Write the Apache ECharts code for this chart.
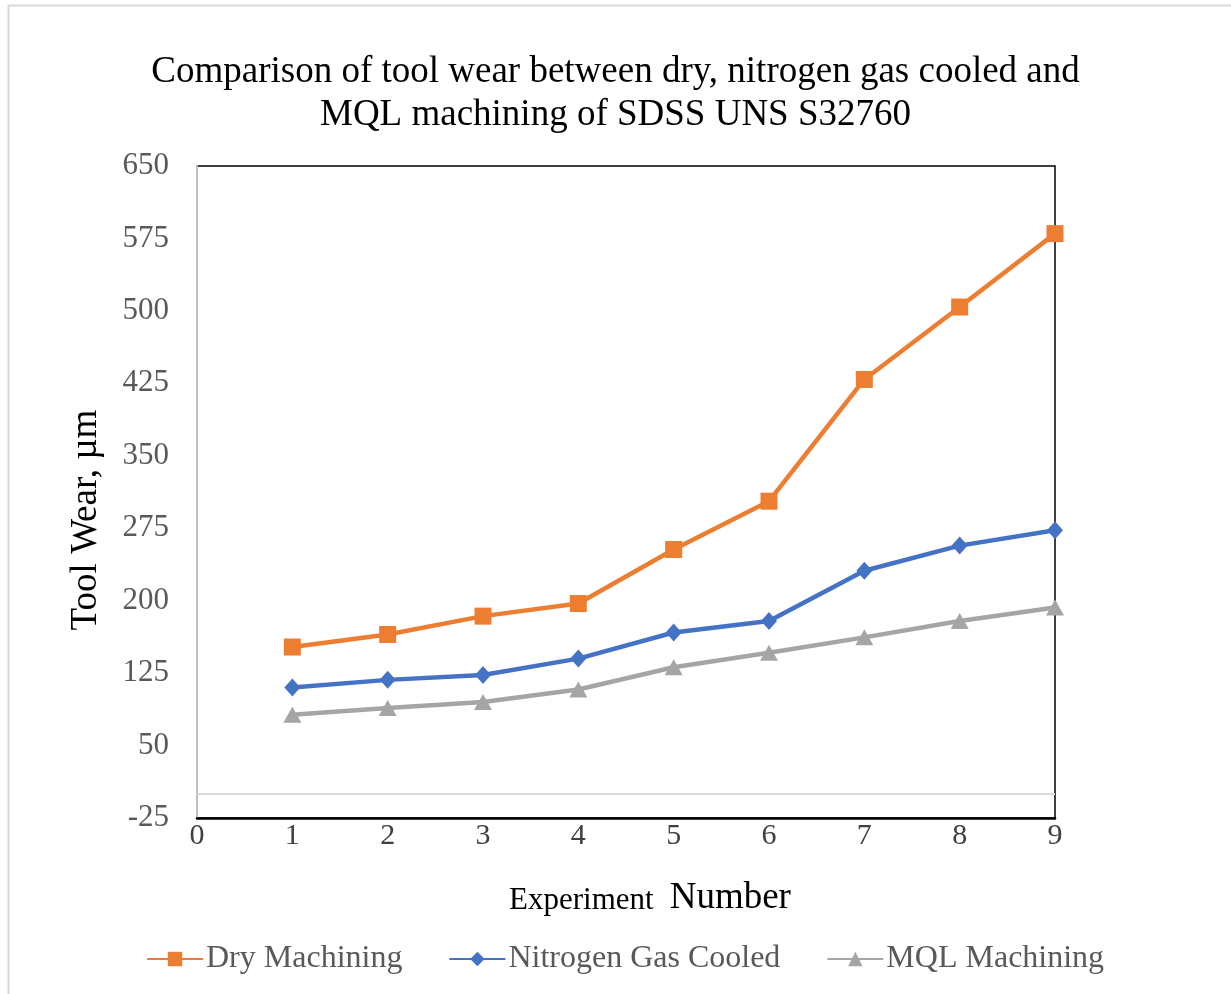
<!DOCTYPE html>
<html>
<head>
<meta charset="utf-8">
<script src="https://cdn.jsdelivr.net/npm/echarts@6/dist/echarts.min.js"></script>
<style>
  html, body { margin: 0; padding: 0; background: #fff; }
  #main { width: 1231px; height: 994px; }
</style>
</head>
<body>
<div id="main"></div>
<script>
// experiment numbers and tool wear (µm)
var experiments = [1, 2, 3, 4, 5, 6, 7, 8, 9];
var dryMachining = [152, 165, 184, 197, 253, 303, 429, 504, 580];
var nitrogenCooled = [110, 118, 123, 140, 167, 179, 231, 257, 273];
var mqlMachining = [82, 89, 95, 108, 131, 146, 162, 179, 193];
var yTicks = [-25, 50, 125, 200, 275, 350, 425, 500, 575, 650];
var xTicks = [0, 1, 2, 3, 4, 5, 6, 7, 8, 9];

var serif = '"Liberation Serif", "DejaVu Serif", serif';

function pairs(vals) {
  return experiments.map(function (x, i) { return [x, vals[i]]; });
}

var chart = echarts.init(document.getElementById('main'));

var option = {
  animation: false,
  backgroundColor: '#fff',
  textStyle: { fontFamily: serif },
  graphic: [
    {
      type: 'rect',
      shape: { x: 8.5, y: 5.5, width: 1240, height: 1000 },
      style: { fill: 'none', stroke: '#d9d9d9', lineWidth: 2 },
      silent: true
    },
    {
      // y axis title, sits a bit below the plot middle like the original
      type: 'text',
      x: 86,
      y: 520,
      rotation: Math.PI / 2,
      style: {
        text: 'Tool Wear, µm',
        font: '37px ' + serif,
        fill: '#000',
        align: 'center',
        verticalAlign: 'middle'
      },
      silent: true
    }
  ],
  title: {
    text: 'Comparison of tool wear between dry, nitrogen gas cooled and\nMQL machining of SDSS UNS S32760',
    left: 'center',
    top: 46,
    textStyle: {
      fontFamily: serif,
      fontSize: 37,
      fontWeight: 'normal',
      color: '#000',
      lineHeight: 43
    }
  },
  legend: {
    bottom: 14,
    left: 141,
    itemGap: 46,
    itemWidth: 56,
    itemHeight: 18,
    textStyle: { fontFamily: serif, fontSize: 32, color: '#595959', padding: [0, 0, 0, -2] },
    data: ['Dry Machining', 'Nitrogen Gas Cooled', 'MQL Machining']
  },
  grid: {
    left: 197,
    right: 176,
    top: 166,
    bottom: 176,
    show: true,
    borderColor: '#000',
    borderWidth: 1.5
  },
  xAxis: {
    type: 'value',
    min: 0,
    max: 9,
    interval: 1,
    name: '{s|Experiment}{b|Number}',
    nameLocation: 'middle',
    nameGap: 62,
    nameTextStyle: {
      padding: [0, 0, 0, 48],
      rich: {
        s: { fontFamily: serif, fontSize: 31, color: '#000', padding: [4, 16, 0, 0] },
        b: { fontFamily: serif, fontSize: 37, color: '#000' }
      }
    },
    axisLine: { onZero: false, lineStyle: { color: '#000', width: 2.5 } },
    axisTick: { show: false },
    splitLine: { show: false },
    axisLabel: {
      customValues: xTicks,
      fontFamily: serif,
      fontSize: 30,
      color: '#404040',
      margin: 3
    }
  },
  yAxis: {
    type: 'value',
    min: -25,
    max: 650,
    axisLine: { show: true, onZero: false, lineStyle: { color: '#bfbfbf', width: 2 } },
    axisTick: { show: false },
    splitLine: { show: false },
    axisLabel: {
      customValues: yTicks,
      fontFamily: serif,
      fontSize: 31,
      color: '#595959',
      margin: 28
    }
  },
  series: [
    {
      name: 'Dry Machining',
      type: 'line',
      data: pairs(dryMachining),
      symbol: 'rect',
      symbolSize: 17,
      color: '#ed7d31',
      lineStyle: { width: 4.5 },
      markLine: {
        silent: true,
        symbol: 'none',
        label: { show: false },
        lineStyle: { color: '#d9d9d9', type: 'solid', width: 2 },
        data: [{ yAxis: 0 }]
      }
    },
    {
      name: 'Nitrogen Gas Cooled',
      type: 'line',
      data: pairs(nitrogenCooled),
      symbol: 'diamond',
      symbolSize: [16, 18],
      color: '#4472c4',
      lineStyle: { width: 4.5 }
    },
    {
      name: 'MQL Machining',
      type: 'line',
      data: pairs(mqlMachining),
      symbol: 'triangle',
      symbolSize: [18, 16],
      color: '#a5a5a5',
      lineStyle: { width: 4.5 }
    }
  ]
};

chart.setOption(option);
</script>
</body>
</html>
